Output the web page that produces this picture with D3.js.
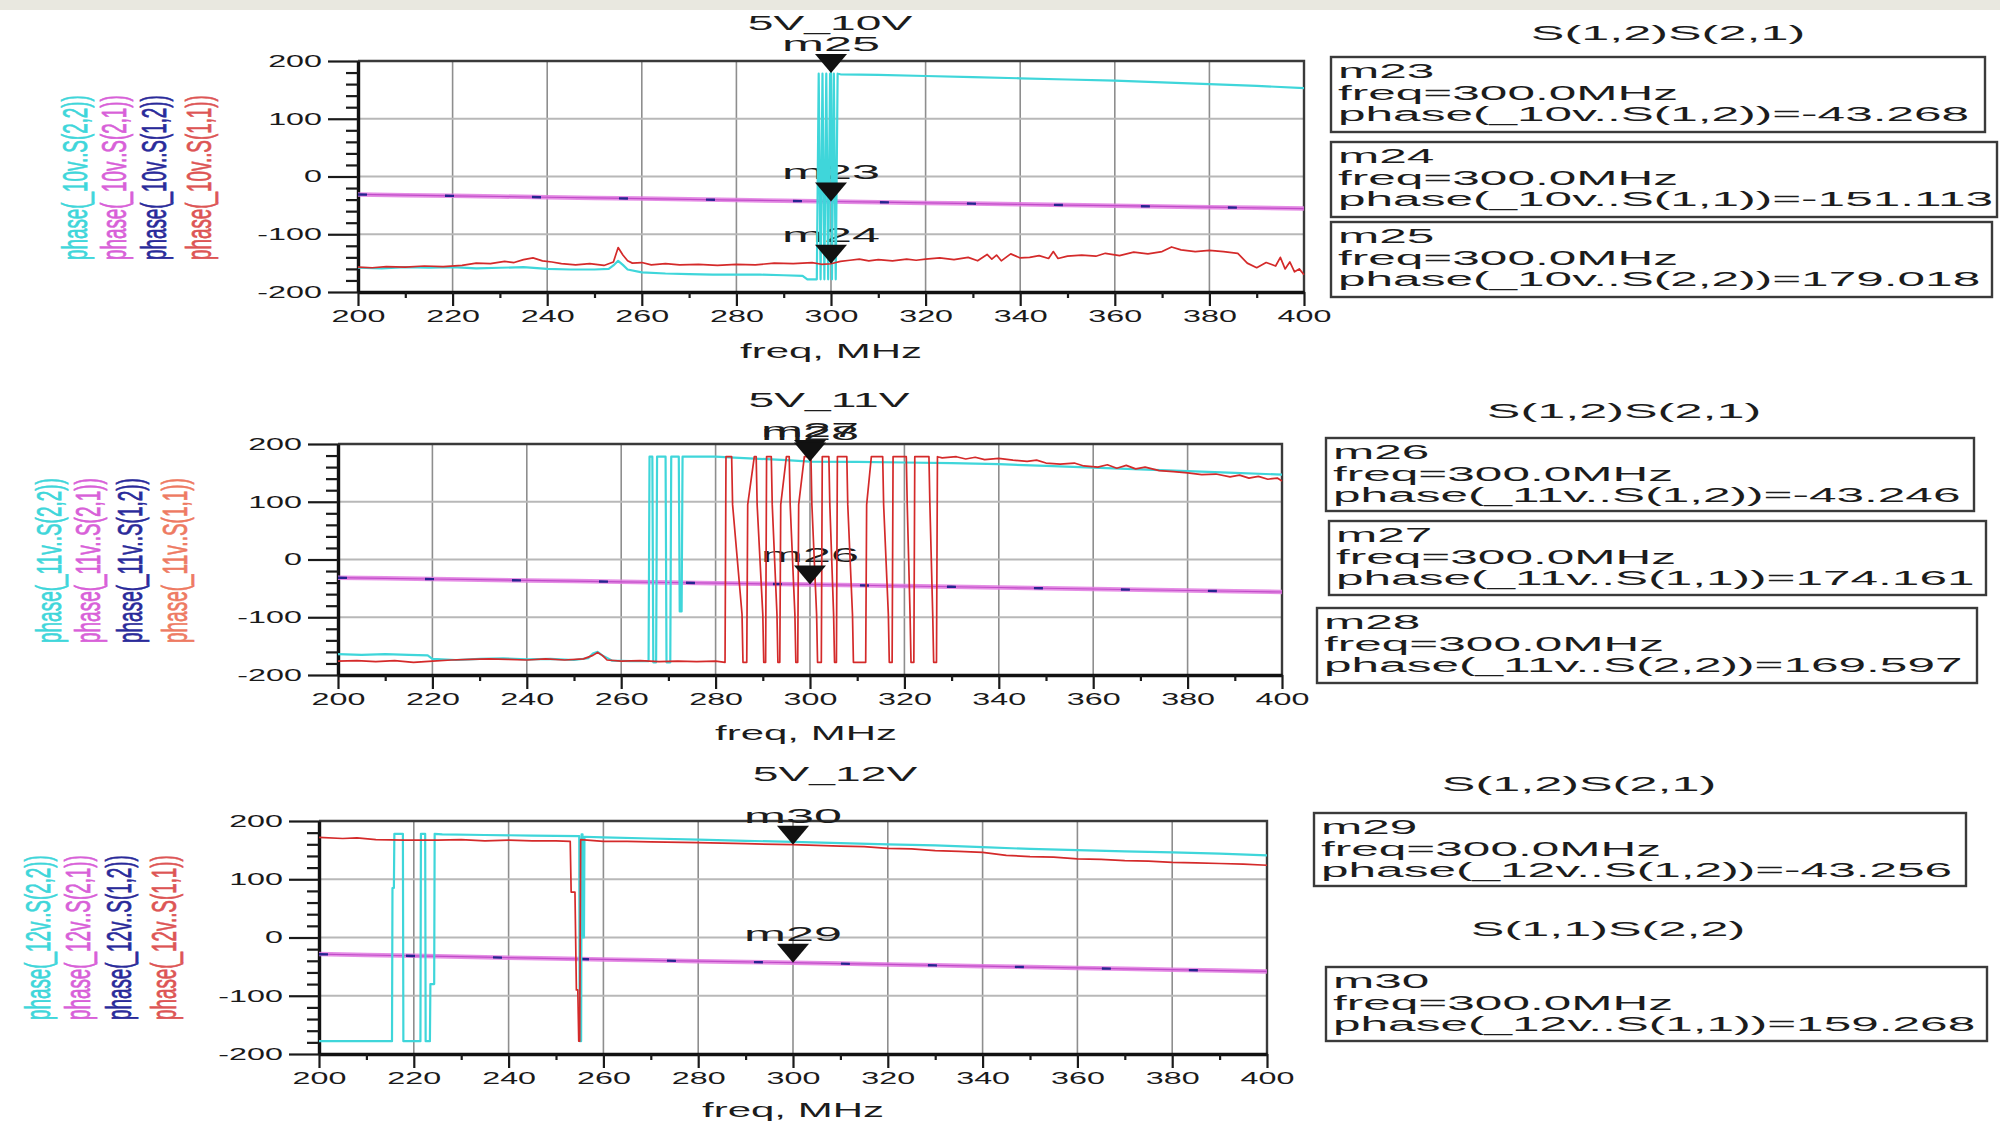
<!DOCTYPE html>
<html><head><meta charset="utf-8">
<script src="https://cdn.jsdelivr.net/npm/d3@7/dist/d3.min.js"></script>
<style>
html,body{margin:0;padding:0;background:#fff;}
svg{display:block;font-family:"Liberation Sans",Arial,sans-serif;}
</style></head><body>
<svg id="c" width="2000" height="1124"></svg>
<script>
// ---------------- DATA ----------------
const freqTicks = [200,220,240,260,280,300,320,340,360,380,400];
const freqMinor = [210,230,250,270,290,310,330,350,370,390];
const phaseTicks = [-200,-100,0,100,200];
const phaseMinor = [-180,-160,-140,-120,-80,-60,-40,-20,20,40,60,80,120,140,160,180];
const fGrid = [200,210,220,230,240,250,260,270,280,290,300,310,320,330,340,350,360,370,380,390,400];

// 5V_10V
const s21_10 = [-31.0,-32.3,-33.5,-34.6,-35.9,-37.1,-38.3,-39.6,-40.8,-42.0,-43.3,-44.5,-45.7,-46.9,-48.2,-49.4,-50.6,-51.8,-53.1,-54.3,-55.5];
const s12_10 = [-31.2,-32.4,-33.6,-34.8,-36.0,-37.2,-38.5,-39.7,-40.9,-42.1,-43.3,-44.6,-45.8,-47.0,-48.3,-49.5,-50.7,-52.0,-53.2,-54.4,-55.6];
const s11_10 = [[200,-157],[203,-158],[206,-156],[210,-157],[214,-155],[218,-156],[222,-154],[225,-150],[228,-151],[231,-147],[233,-149],[235,-144],[237,-141],[239,-146],[241,-148],[243,-151],[246,-153],[249,-151],[252,-154],[254,-148],[255,-123],[256,-136],[257,-146],[258,-150],[260,-149],[262,-153],[265,-151],[268,-153],[272,-152],[276,-154],[280,-152],[284,-153],[288,-150],[292,-151],[296,-149],[298,-152],[300,-151.1],[302,-147],[304,-145],[306,-143],[308,-146],[310,-144],[313,-146],[316,-143],[318,-145],[320,-143],[323,-141],[326,-144],[329,-140],[331,-146],[333,-135],[334,-143],[335,-136],[336,-146],[338,-134],[340,-141],[342,-140],[344,-137],[346,-142],[347,-130],[348,-142],[350,-138],[353,-136],[356,-138],[358,-133],[361,-137],[364,-131],[367,-134],[370,-130],[372,-122],[374,-127],[377,-130],[380,-128],[383,-130],[386,-133],[388,-150],[390,-158],[392,-149],[394,-155],[395,-140],[396,-160],[397,-148],[398,-165],[399,-160],[400,-170]];
const s22_10 = [[200,-158],[205,-159],[210,-157],[215,-158],[220,-157],[225,-159],[230,-158],[235,-157],[240,-160],[245,-161],[250,-161],[253,-160],[254,-154],[255,-146],[256,-153],[257,-161],[260,-166],[265,-168],[270,-169],[275,-170],[280,-170],[285,-170],[290,-171],[294,-172],[295,-178],[297,-178],[297.4,178],[297.8,-178],[298.2,178],[298.6,-178],[299,178],[299.4,-178],[299.8,178],[300,179],[300.2,-178],[300.6,178],[301,-178],[301.4,178],[302,177],[310,176],[320,174],[330,172],[340,170],[350,168],[360,166],[370,163],[380,160],[390,157],[400,153]];
const mkNames10 = ['m23','m24','m25'];
const mkTraces10 = ['S(1,2)','S(1,1)','S(2,2)'];
const mkVals10 = [-43.268,-151.113,179.018];

// 5V_11V
const s21_11 = [-31.5,-32.6,-33.8,-35.0,-36.2,-37.4,-38.6,-39.8,-41.0,-42.1,-43.2,-44.6,-45.9,-47.2,-48.5,-49.8,-51.1,-52.4,-53.7,-55.0,-56.3];
const s12_11 = [-31.6,-32.8,-34.0,-35.1,-36.3,-37.5,-38.7,-39.9,-41.1,-42.2,-43.3,-44.7,-46.0,-47.3,-48.6,-49.9,-51.2,-52.5,-53.8,-55.1,-56.4];
const s11_11 = [[200,-176],[204,-175],[208,-177],[212,-175],[216,-178],[220,-176],[224,-174],[228,-173],[232,-172],[236,-173],[240,-174],[244,-172],[248,-174],[252,-172],[254,-166],[255,-161],[256,-166],[257,-174],[260,-176],[264,-175],[268,-177],[272,-176],[276,-177],[280,-176],[282,-178],[282.2,178],[283.4,178],[283.6,95],[285.6,-95],[285.8,-178],[286.6,-178],[286.8,95],[288.2,178],[288.6,178],[288.8,95],[290,-95],[290.2,-178],[290.6,-178],[290.8,178],[291.8,178],[292,95],[293,-95],[293.2,-178],[293.6,-178],[293.8,95],[295,178],[295.6,178],[295.8,95],[296.8,-95],[297,-178],[297.4,-178],[297.6,95],[298.8,178],[300.2,178],[300.4,95],[301.4,-95],[301.6,-178],[302.4,-178],[302.6,178],[304,178],[304.2,95],[305,-95],[305.2,-178],[305.6,-178],[305.8,178],[307.8,178],[308,95],[309,-95],[309.2,-178],[311.8,-178],[312,95],[313,178],[315.4,178],[315.6,95],[316.6,-95],[316.8,-178],[317.4,-178],[317.6,178],[320.4,178],[320.6,95],[321.2,-95],[321.4,-178],[322,-178],[322.2,178],[325.2,178],[325.4,95],[326,-95],[326.2,-178],[326.8,-178],[327,178],[328,176],[331,178],[333,174],[335,177],[337,173],[340,175],[343,172],[346,170],[348,172],[350,167],[353,165],[356,167],[358,162],[361,160],[363,164],[365,158],[367,163],[369,157],[371,160],[374,154],[377,152],[380,150],[383,147],[386,148],[389,143],[391,146],[393,141],[395,144],[397,139],[399,141],[400,136]];
const s22_11 = [[200,-164],[205,-165],[210,-164],[215,-165],[219,-166],[220,-172],[225,-174],[230,-172],[235,-171],[240,-173],[245,-172],[250,-174],[253,-171],[254,-163],[255,-160],[256,-166],[258,-175],[262,-176],[265.8,-176],[266,178],[266.6,178],[266.8,-178],[267.4,-178],[267.6,178],[269.4,178],[269.6,-178],[270.4,-178],[270.6,178],[272.2,178],[272.4,-90],[272.8,-90],[273,178],[280,178],[285,176],[295,172],[300,169.6],[310,169],[320,168],[330,167],[340,165],[350,162],[360,159],[370,156],[380,153],[390,150],[400,147]];
const mkNames11 = ['m26','m27','m28'];
const mkTraces11 = ['S(1,2)','S(1,1)','S(2,2)'];
const mkVals11 = [-43.246,174.161,169.597];

// 5V_12V
const s21_12 = [-28.5,-30.0,-31.5,-33.0,-34.6,-36.1,-37.6,-39.1,-40.7,-42.0,-43.3,-44.8,-46.3,-47.8,-49.3,-50.8,-52.3,-53.8,-55.3,-56.8,-58.3];
const s12_12 = [-28.7,-30.2,-31.7,-33.2,-34.7,-36.2,-37.7,-39.2,-40.8,-42.1,-43.3,-44.9,-46.4,-47.9,-49.4,-50.9,-52.4,-53.9,-55.4,-56.9,-58.4];
const s11_12 = [[200,172],[205,170],[208,171],[212,168],[218,167],[225,167],[230,168],[235,166],[240,167],[245,166],[250,166],[253,165],[253.2,78],[254,78],[254.3,-90],[254.6,-90],[254.8,-178],[255,-178],[255.2,168],[260,165],[265,165],[270,164],[280,163],[290,161],[300,159.3],[310,157],[315,156],[320,153],[325,152],[330,149],[335,148],[340,146],[345,141],[350,139],[355,138],[360,135],[365,134],[370,132],[375,131],[380,129],[385,128],[390,127],[395,126],[400,124]];
const s22_12 = [[200,-178],[208,-178],[215.4,-178],[215.5,85],[215.8,85],[215.9,178],[217.7,178],[217.8,-178],[221.4,-178],[221.5,178],[222.4,178],[222.5,-178],[223.4,-178],[223.5,-80],[224.3,-80],[224.4,178],[226,177],[235,176],[245,175],[254.9,174],[255,-178],[255.3,-178],[255.4,177],[255.6,177],[255.7,0],[255.9,0],[256,173],[260,172],[270,170],[280,168],[290,166],[300,164],[310,162],[320,160],[330,158],[340,155],[350,152],[360,150],[370,148],[380,146],[390,144],[400,141]];
const mkNames12 = ['m29','m30'];
const mkTraces12 = ['S(1,2)','S(1,1)'];
const mkVals12 = [-43.256,159.268];

// ---------------- LAYOUT ----------------
const panels = [
  {v:'10', x0:358, x1:1304, y0:61, y1:292, title:'5V_10V', titleX:830, titleY:30,
   freqX:831, freqY:358, legX:[74,113,153,198], legY:260, legRed:'#dd5555',
   s21:s21_10, s12:s12_10, s11:s11_10, s22:s22_10,
   mk:{names:mkNames10, traces:mkTraces10, vals:mkVals10},
   headers:[{t:'S(1,2)S(2,1)', x:1668, y:40}],
   boxes:[[1331,57,654,75],[1331,142,666,75],[1331,222,661,75]]},
  {v:'11', x0:338, x1:1282, y0:444, y1:675, title:'5V_11V', titleX:829, titleY:407,
   freqX:806, freqY:740, legX:[49,88,130,175], legY:643, legRed:'#ee7a62',
   s21:s21_11, s12:s12_11, s11:s11_11, s22:s22_11,
   mk:{names:mkNames11, traces:mkTraces11, vals:mkVals11},
   headers:[{t:'S(1,2)S(2,1)', x:1624, y:418}],
   boxes:[[1326,438,648,73],[1329,521,657,74],[1317,608,660,75]]},
  {v:'12', x0:319, x1:1267, y0:821, y1:1054, title:'5V_12V', titleX:835, titleY:781,
   freqX:793, freqY:1117, legX:[37,77,118,163], legY:1020, legRed:'#dd5555',
   s21:s21_12, s12:s12_12, s11:s11_12, s22:s22_12,
   mk:{names:mkNames12, traces:mkTraces12, vals:mkVals12},
   headers:[{t:'S(1,2)S(2,1)', x:1579, y:791},{t:'S(1,1)S(2,2)', x:1608, y:936}],
   boxes:[[1314,813,652,73],[1326,967,661,74]]}
];

const COL = {cyan:'#3fd6da', red:'#d42a2a', mag:'#e07ae0', magC:'#c04cc8', blue:'#24248f', text:'#1c1c1c'};
const FONT = '"Liberation Sans", Arial, sans-serif';

const svg = d3.select('#c');
svg.append('rect').attr('x',0).attr('y',0).attr('width',2000).attr('height',1124).attr('fill','#fff');
svg.append('rect').attr('x',0).attr('y',0).attr('width',2000).attr('height',10).attr('fill','#e9e8e0');

function stext(g, str, x, y, size, sx, anchor, fill) {
  return g.append('text').text(str)
    .attr('font-size', size).attr('font-family', FONT)
    .attr('fill', fill || COL.text)
    .attr('text-anchor', anchor || 'start')
    .attr('transform', `translate(${x},${y}) scale(${sx},1)`);
}

function drawPanel(p) {
  const g = svg.append('g');
  const x = d3.scaleLinear().domain([200,400]).range([p.x0,p.x1]);
  const y = d3.scaleLinear().domain([-200,200]).range([p.y1,p.y0]);

  // grid
  g.append('g').selectAll('line').data(freqTicks.slice(1,-1)).join('line')
    .attr('x1',d=>x(d)).attr('x2',d=>x(d)).attr('y1',p.y0).attr('y2',p.y1)
    .attr('stroke','#8e8e8e').attr('stroke-width',1.6);
  g.append('g').selectAll('line').data(phaseTicks.slice(1,-1)).join('line')
    .attr('x1',p.x0).attr('x2',p.x1).attr('y1',d=>y(d)).attr('y2',d=>y(d))
    .attr('stroke','#b8b8b8').attr('stroke-width',2.2);
  g.append('path').attr('d',`M${p.x0},${p.y0}H${p.x1}V${p.y1}`)
    .attr('fill','none').attr('stroke','#3a3a3a').attr('stroke-width',2.4);

  // axes
  const fmt = d => String(d);
  const ya = g.append('g').attr('transform',`translate(${p.x0},0)`)
    .call(d3.axisLeft(y).tickValues(phaseTicks).tickSize(30).tickSizeOuter(0).tickPadding(6).tickFormat(fmt));
  const ym = g.append('g').attr('transform',`translate(${p.x0},0)`)
    .call(d3.axisLeft(y).tickValues(phaseMinor).tickSize(12).tickSizeOuter(0).tickFormat(''));
  ym.select('.domain').remove();
  const xa = g.append('g').attr('transform',`translate(0,${p.y1})`)
    .call(d3.axisBottom(x).tickValues(freqTicks).tickSize(14).tickSizeOuter(0).tickPadding(4).tickFormat(fmt));
  const xm = g.append('g').attr('transform',`translate(0,${p.y1})`)
    .call(d3.axisBottom(x).tickValues(freqMinor).tickSize(6).tickSizeOuter(0).tickFormat(''));
  xm.select('.domain').remove();
  [ya,ym,xa,xm].forEach(a=>{
    a.attr('font-family',FONT).attr('font-size',17).attr('color','#1a1a1a');
    a.selectAll('.tick line').attr('stroke-width',2.2);
    a.select('.domain').attr('stroke-width',3.4).attr('stroke','#111');
  });
  [ya,xa].forEach(a=>a.selectAll('.tick text').each(function(){
    const t = d3.select(this);
    const tx = +t.attr('x')||0, ty = +t.attr('y')||0;
    t.attr('x',0).attr('y',0).attr('transform',`translate(${tx},${ty}) scale(1.9,1)`);
  }));

  // title and axis label
  stext(g, p.title, p.titleX, p.titleY, 21, 2.2, 'middle');
  stext(g, 'freq, MHz', p.freqX, p.freqY, 21, 2.0, 'middle');

  // legend (rotated)
  const legTexts = ['S(2,2)','S(2,1)','S(1,2)','S(1,1)'];
  const legCols = [COL.cyan, '#d860d8', '#2a2a9a', p.legRed];
  legTexts.forEach((s,i)=>{
    const t = g.append('text').text(`phase(_${p.v}v..${s})`)
      .attr('font-size',17).attr('font-family',FONT).attr('fill',legCols[i])
      .attr('stroke',legCols[i]).attr('stroke-width',0.35)
      .attr('dominant-baseline','central');
    const L = t.node().getComputedTextLength();
    t.attr('transform',`translate(${p.legX[i]},${p.legY}) rotate(-90) scale(${165/L},2.1)`);
  });

  // marker labels (under the traces)
  const mkTip = p.mk.names.map((n,i)=>({name:n, x:x(300), y:y(p.mk.vals[i])}));
  mkTip.forEach(m=>stext(g, m.name, m.x, m.y-22, 21, 2.4, 'middle'));

  // traces
  const line = d3.line().x(d=>x(d[0])).y(d=>y(d[1]));
  const pairs = arr => arr.map((v,i)=>[fGrid[i], v]);
  g.append('path').attr('d',line(pairs(p.s21))).attr('fill','none')
    .attr('stroke',COL.mag).attr('stroke-width',4.5).attr('stroke-opacity',0.85);
  g.append('path').attr('d',line(pairs(p.s21))).attr('fill','none')
    .attr('stroke',COL.magC).attr('stroke-width',1.2);
  g.append('path').attr('d',line(pairs(p.s12))).attr('fill','none')
    .attr('stroke',COL.blue).attr('stroke-width',2.4).attr('stroke-dasharray','9,78');
  g.append('path').attr('d',line(p.s22)).attr('fill','none')
    .attr('stroke',COL.cyan).attr('stroke-width',2.2).attr('stroke-linejoin','round');
  g.append('path').attr('d',line(p.s11)).attr('fill','none')
    .attr('stroke',COL.red).attr('stroke-width',1.7).attr('stroke-linejoin','round');

  // marker triangles
  mkTip.forEach(m=>{
    g.append('path').attr('d',`M${m.x-16},${m.y-19}L${m.x+16},${m.y-19}L${m.x},${m.y}Z`).attr('fill','#111');
  });

  // header(s)
  p.headers.forEach(h=>stext(g, h.t, h.x, h.y, 21, 2.4, 'middle'));
  // marker readout boxes
  p.boxes.forEach((b,i)=>{
    g.append('rect').attr('x',b[0]).attr('y',b[1]).attr('width',b[2]).attr('height',b[3])
      .attr('fill','#fff').attr('stroke','#3a3a3a').attr('stroke-width',2.4);
    const lines = [p.mk.names[i], 'freq=300.0MHz',
      `phase(_${p.v}v..${p.mk.traces[i]})=${p.mk.vals[i].toFixed(3)}`];
    lines.forEach((s,k)=>stext(g, s, b[0]+7, b[1]+21+k*21.5, 21, 2.36, 'start'));
  });
}
panels.forEach(drawPanel);
</script></body></html>
